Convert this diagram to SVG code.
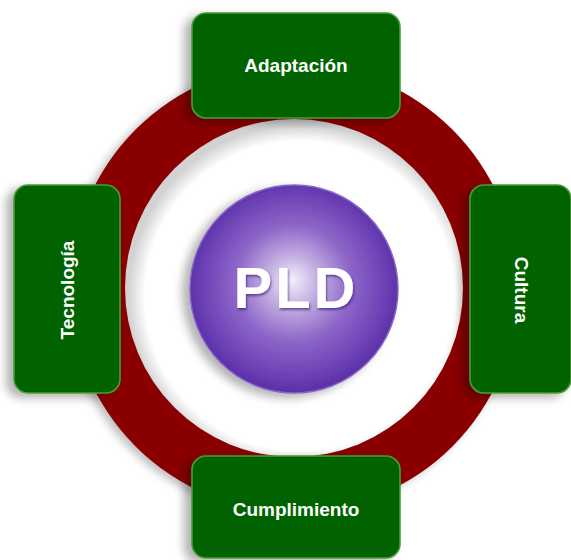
<svg xmlns="http://www.w3.org/2000/svg" width="571" height="560" viewBox="0 0 571 560">
  <defs>
    <filter id="shadow" x="-20%" y="-20%" width="140%" height="140%">
      <feDropShadow dx="-7" dy="4" stdDeviation="5" flood-color="#000" flood-opacity="0.3"/>
    </filter>
    <filter id="ringShadow" x="-10%" y="-10%" width="120%" height="120%">
      <feDropShadow dx="-5" dy="3" stdDeviation="4" flood-color="#000" flood-opacity="0.25"/>
    </filter>
    <filter id="textShadow" x="-10%" y="-10%" width="120%" height="130%">
      <feDropShadow dx="1" dy="2" stdDeviation="1.2" flood-color="#2a1060" flood-opacity="0.6"/>
    </filter>
    <radialGradient id="holeGrad" cx="300" cy="296" r="172" gradientUnits="userSpaceOnUse">
      <stop offset="0.9" stop-color="#ffffff"/>
      <stop offset="1" stop-color="#d2d2d2"/>
    </radialGradient>
    <radialGradient id="sphereGrad" cx="294" cy="286" r="106" fx="292" fy="280" gradientUnits="userSpaceOnUse">
      <stop offset="0" stop-color="#f4f0fa"/>
      <stop offset="0.22" stop-color="#c7b4e4"/>
      <stop offset="0.55" stop-color="#8d66c8"/>
      <stop offset="0.88" stop-color="#6a3fb4"/>
      <stop offset="1" stop-color="#5c30a8"/>
    </radialGradient>
  </defs>
  <style>
    .box { fill: #056405; stroke: #4a9a3a; stroke-width: 1.6; filter: url(#shadow); }
    .lbl { font-family: "Liberation Sans", Arial, sans-serif; font-weight: bold; font-size: 19px; fill: #ffffff; text-anchor: middle; }
    .pld { font-family: "Liberation Sans", Arial, sans-serif; font-weight: bold; font-size: 58px; fill: #ffffff; text-anchor: middle; letter-spacing: 3px; }
  </style>

  <rect width="571" height="560" fill="#ffffff"/>

  <g id="ring">
    <circle cx="294" cy="288" r="224" fill="#8a0000" filter="url(#ringShadow)"/>
    <circle cx="294" cy="288" r="169" fill="url(#holeGrad)"/>
  </g>

  <g id="pld">
    <circle cx="294" cy="289" r="104" fill="url(#sphereGrad)" stroke="#8466c8" stroke-width="1.5" filter="url(#shadow)"/>
    <text class="pld" x="296" y="308" filter="url(#textShadow)">PLD</text>
  </g>

  <g id="adaptacion">
    <rect class="box" x="192" y="13" width="208" height="105" rx="14"/>
    <text class="lbl" x="296" y="72">Adaptación</text>
  </g>

  <g id="tecnologia">
    <rect class="box" x="14" y="185" width="106" height="208" rx="14"/>
    <text class="lbl" transform="translate(74 290) rotate(-90)">Tecnología</text>
  </g>

  <g id="cultura">
    <rect class="box" x="470" y="185" width="101" height="208" rx="14"/>
    <text class="lbl" transform="translate(515 290) rotate(90)">Cultura</text>
  </g>

  <g id="cumplimiento">
    <rect class="box" x="192" y="456" width="208" height="102" rx="14"/>
    <text class="lbl" x="296" y="516">Cumplimiento</text>
  </g>
</svg>
